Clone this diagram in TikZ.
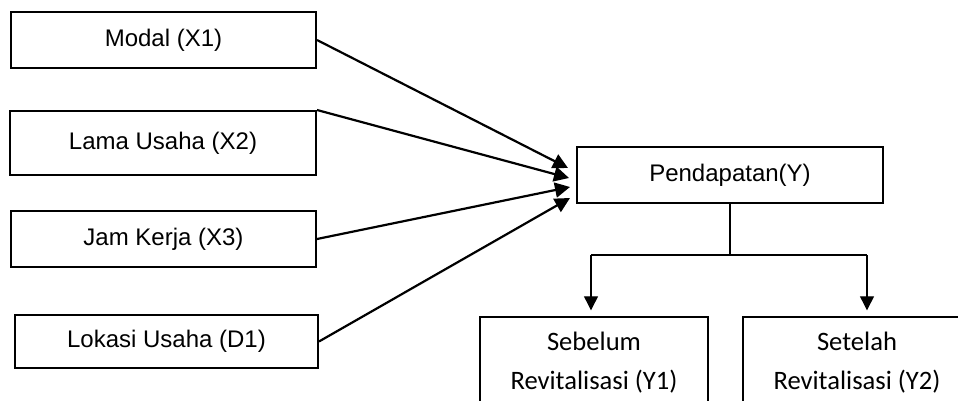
\documentclass[tikz,border=0pt]{standalone}
\usepackage{fontspec}
\setmainfont{Liberation Sans}
\newfontfamily\calibri{Carlito}
\usetikzlibrary{arrows.meta}
\usetikzlibrary{positioning}

\begin{document}
\begin{tikzpicture}[x=0.5pt,y=-0.5pt]
		\tikzstyle{rect} = [rectangle, minimum height=28pt, text centered, draw=black, line width=1pt, font=\fontsize{12}{14}\selectfont]
		\tikzstyle{lowrect} = [rectangle, minimum width=114pt, minimum height=46pt, text centered, align=center, draw=black, line width=0.7pt, font=\calibri\fontsize{13.3}{19.5}\selectfont]
		\tikzstyle{arrow} = [line width=1.1pt,-{Triangle[length=7.5pt,width=7.5pt]}]
		\tikzstyle{thinarrow} = [line width=0.6pt,-{Triangle[length=7pt,width=7pt]}]
		\useasboundingbox (0,0) rectangle (958,401);
		\clip (0,0) rectangle (958,401);
		\node (modal) [rect, minimum width=152.5pt] at (163.5,40) {Modal (X1)};
		\node (lama) [rect, minimum width=153pt, minimum height=32pt] at (163,143) {Lama Usaha (X2)};
		\node (jam) [rect, minimum width=152.5pt] at (163.5,239) {Jam Kerja (X3)};
		\node (lokasi) [rect, minimum width=151.5pt, minimum height=26.5pt] at (166.5,341.5) {Lokasi Usaha (D1)};
		\node (pend) [rect, minimum width=153pt] at (730,175) {Pendapatan(Y)};
		\node (y1) [lowrect] at (594,363) {Sebelum\\Revitalisasi (Y1)};
		\node (y2) [lowrect] at (857,363) {Setelah\\Revitalisasi (Y2)};
		\coordinate (t1) at (568,168);
		\coordinate (t2) at (569,178);
		\coordinate (t3) at (570,187);
		\coordinate (t4) at (570,198);
		\draw [arrow] (modal.east) -- (t1);
		\draw [arrow] (lama.north east) -- (t2);
		\draw [arrow] (jam.east) -- (t3);
		\draw [arrow] (lokasi.east) -- (t4);
		\coordinate (b1) at (591,255);
		\coordinate (b2) at (867,255);
		\draw [line width=0.6pt] (pend.south) -- (pend.south |- b1);
		\draw [line width=0.6pt] (b1) -- (b2);
		\draw [thinarrow, shorten >=3pt] (b1) -- (b1 |- y1.north);
		\draw [thinarrow, shorten >=3pt] (b2) -- (b2 |- y2.north);
	\end{tikzpicture}
\end{document}
